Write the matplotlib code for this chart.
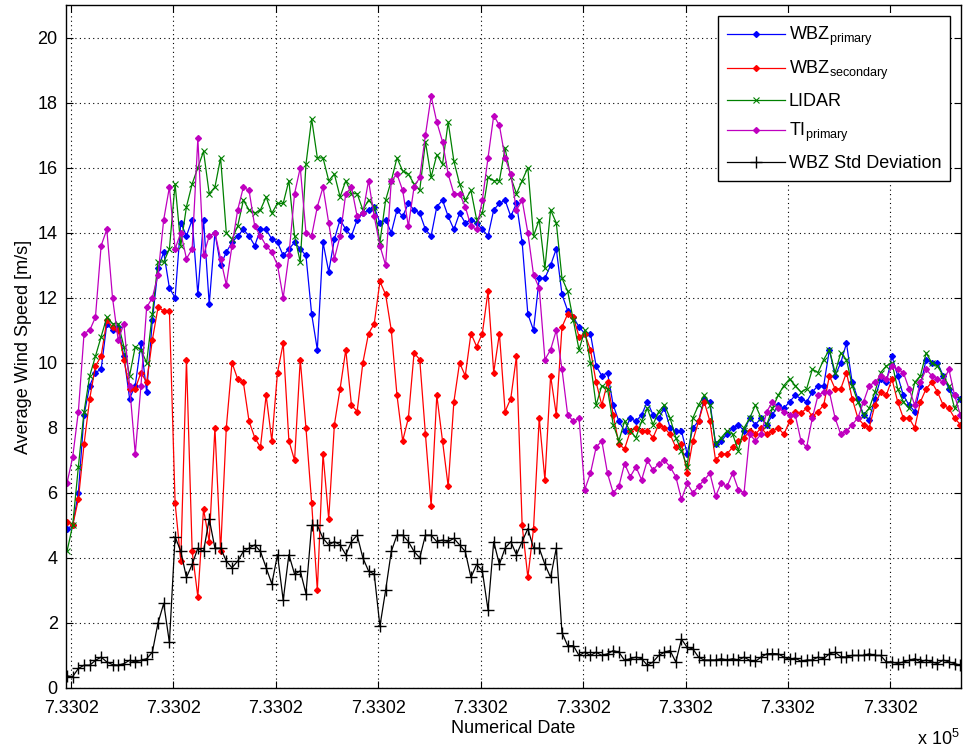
import matplotlib
matplotlib.use('Agg')
import matplotlib.pyplot as plt
from matplotlib.ticker import FuncFormatter
import numpy as np

plt.rcParams['font.family'] = ['Liberation Sans', 'DejaVu Sans']
plt.rcParams['mathtext.default'] = 'regular'

# sample times (datenum), 40-minute averages
t_start = 733019.98
t_step = 40.0 / 1440.0
n_pts = 158

wbz_primary = [
    4.9, 5.0, 6.0, 8.4, 9.3, 9.7, 9.8, 11.2, 11.0, 11.1,
    10.2, 8.9, 9.3, 10.6, 9.1, 11.3, 12.9, 13.4, 12.3, 12.0,
    14.3, 13.9, 14.4, 12.1, 14.4, 11.8, 14.0, 13.0, 13.4, 13.7,
    13.9, 14.1, 13.9, 13.6, 14.1, 14.1, 13.8, 13.7, 13.3, 13.5,
    13.7, 13.5, 13.3, 11.5, 10.4, 13.7, 12.8, 13.8, 14.4, 14.1,
    13.9, 14.4, 14.6, 14.7, 14.8, 14.3, 14.4, 14.0, 14.7, 14.5,
    14.9, 14.7, 14.6, 14.1, 13.9, 14.8, 15.0, 14.5, 14.1, 14.6,
    14.3, 14.4, 14.3, 14.1, 13.9, 14.7, 14.9, 15.0, 14.5, 14.9,
    13.7, 11.5, 11.0, 12.6, 12.6, 13.0, 13.5, 12.1, 11.6, 11.4,
    11.1, 10.9, 10.9, 9.9, 9.6, 9.7, 8.7, 8.2, 7.9, 8.3,
    8.2, 8.4, 8.8, 8.4, 8.3, 8.6, 8.0, 7.9, 7.9, 7.2,
    8.0, 8.2, 8.9, 8.8, 7.5, 7.6, 7.8, 8.0, 8.1, 7.9,
    8.3, 8.1, 8.3, 8.1, 8.4, 8.7, 8.6, 8.8, 9.0, 8.9,
    8.8, 9.1, 9.3, 9.3, 10.4, 9.6, 10.0, 10.6, 9.4, 8.9,
    8.4, 8.25, 8.9, 9.5, 9.4, 10.2, 9.6, 9.0, 8.7, 8.5,
    9.3, 10.1, 10.0, 10.0, 9.6, 9.2, 9.0, 8.9,
]

wbz_secondary = [
    5.1, 5.0, 5.8, 7.5, 8.9, 9.9, 10.2, 11.3, 11.1, 11.0,
    10.1, 9.2, 9.2, 9.7, 9.4, 10.7, 11.7, 11.6, 11.6, 5.7,
    3.9, 10.1, 4.2, 2.8, 5.5, 4.5, 8.0, 4.2, 8.0, 10.0,
    9.5, 9.4, 8.2, 7.7, 7.4, 9.0, 7.6, 9.7, 10.6, 7.6,
    7.0, 10.1, 8.0, 5.7, 3.0, 7.2, 5.2, 8.1, 9.2, 10.4,
    8.7, 8.5, 10.0, 10.9, 11.2, 12.5, 12.1, 11.0, 9.0, 7.6,
    8.3, 10.3, 10.1, 7.8, 5.6, 9.0, 7.6, 6.2, 8.8, 10.0,
    9.6, 10.9, 10.5, 10.9, 12.2, 9.7, 10.9, 8.5, 8.9, 10.2,
    5.0, 3.4, 4.9, 8.3, 6.4, 9.6, 8.4, 11.1, 11.5, 11.4,
    10.8, 10.9, 10.4, 9.4, 8.7, 9.4, 8.4, 7.5, 7.35, 7.9,
    8.0, 7.9, 7.9, 7.7, 8.1, 8.0, 7.8, 7.4, 7.5, 6.6,
    7.6, 8.2, 8.8, 8.2, 7.0, 7.2, 7.2, 7.4, 7.6, 7.7,
    7.9, 7.8, 8.0, 7.8, 7.9, 8.0, 7.8, 8.2, 8.5, 8.45,
    8.6, 8.35, 8.5, 8.7, 9.6, 9.2, 9.2, 9.7, 8.9, 8.3,
    8.1, 8.0, 8.7, 9.1, 9.0, 9.5, 8.8, 8.3, 8.3, 8.0,
    8.8, 9.2, 9.4, 9.1, 8.7, 8.6, 8.3, 8.1,
]

lidar = [
    4.2, 5.0, 6.8, 8.5, 9.6, 10.2, 10.8, 11.4, 11.2, 11.2,
    10.5, 9.6, 10.5, 10.4, 10.0, 11.5, 13.1, 13.1, 13.5, 15.5,
    13.6, 14.8, 15.5, 16.0, 16.5, 15.2, 15.4, 16.3, 14.0, 13.8,
    14.2, 15.0, 14.7, 14.6, 14.7, 15.1, 14.6, 14.9, 14.9, 15.6,
    13.9, 13.1, 16.1, 17.5, 16.3, 16.3, 15.6, 15.8, 15.1, 15.6,
    15.2, 15.2, 14.7, 15.0, 14.8, 13.7, 15.0, 15.6, 16.3, 15.9,
    15.8, 15.5, 15.3, 16.8, 15.7, 16.4, 16.1, 17.4, 16.2, 15.5,
    15.0, 15.3, 14.4, 14.6, 15.7, 15.6, 15.6, 16.6, 15.7, 15.2,
    15.6, 16.0, 13.9, 14.4, 12.9, 14.7, 14.3, 12.6, 12.2, 11.3,
    10.4, 11.0, 10.0, 8.7, 9.3, 9.2, 8.1, 7.6, 8.2, 7.9,
    7.7, 8.2, 8.6, 8.1, 8.5, 8.7, 8.3, 7.7, 7.3, 6.8,
    8.3, 8.7, 9.0, 8.7, 7.5, 7.7, 7.9, 7.8, 7.3, 8.0,
    8.3, 8.7, 8.3, 8.1, 8.6, 9.0, 9.3, 9.5, 9.3, 9.1,
    9.2, 9.8, 9.7, 10.1, 10.4, 9.7, 10.3, 10.1, 9.3, 8.8,
    8.4, 8.6, 9.1, 9.7, 9.9, 10.0, 9.2, 8.8, 8.6, 9.4,
    9.6, 10.3, 10.0, 9.9, 9.6, 9.3, 8.6, 8.9,
]

ti_primary = [
    6.3, 7.1, 8.5, 10.9, 11.0, 11.4, 13.6, 14.1, 12.0, 10.7,
    11.2, 9.3, 7.2, 9.3, 11.7, 12.0, 12.7, 14.4, 15.4, 13.5,
    14.0, 13.2, 13.5, 16.9, 13.3, 13.9, 14.0, 13.2, 12.4, 13.6,
    14.7, 15.4, 15.3, 14.2, 13.9, 13.6, 13.4, 13.0, 12.0, 13.3,
    15.2, 16.0, 14.0, 13.9, 14.8, 15.4, 14.3, 13.2, 13.9, 15.2,
    15.4, 14.5, 14.6, 15.6, 14.5, 13.6, 13.0, 15.6, 15.8, 15.3,
    14.2, 15.4, 15.7, 17.0, 18.2, 17.4, 16.8, 15.8, 15.2, 15.2,
    14.8, 14.2, 14.1, 15.0, 16.3, 17.6, 17.3, 16.3, 15.8, 14.7,
    15.0, 14.0, 12.7, 12.3, 10.1, 10.4, 11.0, 9.8, 8.4, 8.2,
    8.3, 6.1, 6.6, 7.4, 7.6, 6.6, 6.0, 6.2, 6.9, 6.5,
    6.8, 6.4, 7.0, 6.7, 6.9, 7.0, 6.8, 6.5, 5.8, 6.3,
    6.0, 6.2, 6.4, 6.6, 5.9, 6.3, 6.2, 6.6, 6.1, 6.0,
    7.8, 7.6, 7.8, 8.5, 8.8, 8.6, 8.5, 8.4, 8.4, 7.6,
    7.4, 8.3, 9.0, 9.1, 9.1, 8.3, 7.8, 7.9, 8.1, 8.3,
    8.8, 9.3, 9.4, 9.6, 9.5, 9.9, 9.8, 9.7, 9.2, 8.7,
    9.4, 9.8, 9.6, 9.5, 9.4, 9.8, 9.0, 8.4,
]

wbz_std = [
    0.37, 0.35, 0.6, 0.7, 0.7, 0.85, 0.95, 0.8, 0.72, 0.7,
    0.75, 0.85, 0.8, 0.85, 0.9, 1.1, 2.0, 2.6, 1.4, 4.65,
    4.2, 3.4, 3.8, 4.3, 4.2, 5.2, 4.3, 4.3, 3.9, 3.7,
    3.9, 4.2, 4.3, 4.4, 4.2, 3.7, 3.2, 4.1, 2.7, 4.1,
    3.5, 3.6, 2.9, 5.0, 5.0, 4.6, 4.4, 4.5, 4.4, 4.1,
    4.5, 4.7, 4.0, 3.6, 3.5, 1.9, 3.0, 4.2, 4.7, 4.7,
    4.5, 4.2, 4.0, 4.7, 4.7, 4.5, 4.55, 4.5, 4.6, 4.4,
    4.2, 3.4, 3.8, 3.6, 2.4, 4.5, 3.8, 4.3, 4.5, 4.1,
    4.5, 4.9, 4.3, 4.3, 3.8, 3.4, 4.3, 1.7, 1.3, 1.3,
    1.0, 1.1, 1.0, 1.1, 1.0, 1.05, 1.15, 1.1, 0.85, 0.9,
    0.95, 0.9, 0.7, 0.8, 1.0, 1.1, 1.15, 0.8, 1.5, 1.25,
    1.2, 0.95, 0.86, 0.86, 0.86, 0.9, 0.86, 0.9, 0.86, 0.95,
    0.85, 0.82, 0.95, 1.05, 1.06, 1.05, 0.95, 0.88, 0.92, 0.82,
    0.86, 0.86, 0.95, 0.9, 1.05, 1.1, 0.96, 0.95, 1.0, 1.0,
    1.0, 1.05, 1.0, 1.0, 0.8, 0.8, 0.75, 0.8, 0.85, 0.9,
    0.8, 0.86, 0.8, 0.75, 0.86, 0.8, 0.75, 0.7,
]

t = t_start + t_step * np.arange(n_pts)

fig = plt.figure(figsize=(9.63, 7.51), dpi=100)
ax = fig.add_axes([0.0685, 0.0839, 0.9295, 0.9094])

ax.plot(t, wbz_primary, '-', color='b', marker='D', ms=3, lw=0.9,
        label=r'WBZ$_{primary}$')
ax.plot(t, wbz_secondary, '-', color='r', marker='D', ms=3, lw=0.9,
        label=r'WBZ$_{secondary}$')
ax.plot(t, lidar, '-', color=(0, 0.5, 0), marker='x', ms=4.5, mew=0.8, lw=0.9,
        label='LIDAR')
ax.plot(t, ti_primary, '-', color='m', marker='D', ms=3, lw=0.9,
        label=r'TI$_{primary}$')
ax.plot(t, wbz_std, '-', color='k', marker='+', ms=8, mew=1.0, lw=0.9,
        label='WBZ Std Deviation')

ax.set_xlim(t[0] - 0.005, t[-1] + 0.004)
ax.set_ylim(0, 21)
ax.set_xticks(733020.0 + 0.5 * np.arange(9))
ax.set_yticks(np.arange(0, 21, 2))
ax.xaxis.set_major_formatter(FuncFormatter(lambda v, p: '%.4f' % (v / 1e5)))

ax.grid(True, color='k', linestyle=(0, (1, 3)), linewidth=0.8)
ax.tick_params(direction='in', top=True, right=True, length=5, labelsize=13)
ax.tick_params(axis='x', pad=9)
ax.tick_params(axis='y', pad=6)
for s in ax.spines.values():
    s.set_linewidth(1.0)

ax.set_xlabel('Numerical Date', fontsize=13, labelpad=2)
ax.set_ylabel('Average Wind Speed [m/s]', fontsize=13, labelpad=4)
fig.text(0.952, 0.003, r'x 10$^{5}$', fontsize=13, ha='left', va='bottom')

leg = ax.legend(loc='upper right', fontsize=13, numpoints=1, handlelength=3.2,
                handletextpad=0.2, fancybox=False, framealpha=1, edgecolor='k',
                borderaxespad=0.6, labelspacing=0.6, borderpad=0.5)
leg.get_frame().set_linewidth(1.0)

fig.savefig('out.png', dpi=100)
